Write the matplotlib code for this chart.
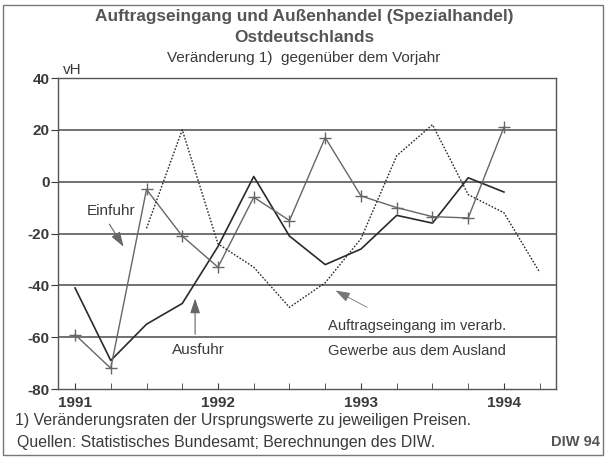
import numpy as np
import matplotlib
matplotlib.use("Agg")
from matplotlib import pyplot as plt
from matplotlib.patches import Rectangle

plt.rcParams['font.family'] = ['Liberation Sans', 'DejaVu Sans']

# quarterly values, 1991 Q1 .. 1994 Q2
quarters = [1991 + i * 0.25 for i in range(14)]
einfuhr = [-59, -72, -3, -21, -33, -6, -15, 17, -5.5, -10, -13.5, -14, 21, np.nan]
ausfuhr = [-41, -69, -55, -47, -25, 2, -21, -32, -26, -13, -16, 1.5, -4, np.nan]
auftrag = [np.nan, np.nan, -18, 20, -24, -33, -48.5, -39, -22, 10, 22, -5, -12, -35]

year_ticks = [1991, 1992, 1993, 1994]
y_ticks = [-80, -60, -40, -20, 0, 20, 40]
grid_levels = [-60, -40, -20, 0, 20]

ink = '#3a3a3a'
gray = '#666666'
fs = 11

fig = plt.figure(figsize=(6.08, 4.58), dpi=100)
fig.patch.set_facecolor('white')
ax = fig.add_axes([58 / 608, 1 - 389 / 458, 498 / 608, 311 / 458])

for g in grid_levels:
    ax.axhline(g, color='#4a4a4a', lw=1.1, zorder=1)

ax.plot(quarters, ausfuhr, color='#2a2a2a', lw=1.2, zorder=3)
ax.plot(quarters, einfuhr, color=gray, lw=1.0, marker='+', ms=8, mew=1.0, zorder=3)
ax.plot(quarters, auftrag, color='#2a2a2a', lw=1.0, ls=(0, (1.2, 1.2)), zorder=3)

ax.set_xlim(1990.881, 1994.364)
ax.set_ylim(-80, 40)
ax.set_yticks(y_ticks)
ax.set_yticklabels([str(v) for v in y_ticks], fontweight='bold', color=ink, fontsize=11)
ax.set_xticks(year_ticks)
ax.set_xticklabels([str(v) for v in year_ticks], fontweight='bold', color=ink, fontsize=11)
ax.set_xticks(quarters[:14], minor=True)
ax.tick_params(axis='x', which='both', direction='in', length=4, color=ink, pad=5)
ax.tick_params(axis='y', direction='out', length=5, color=ink, pad=1)
for s in ax.spines.values():
    s.set_color('#555555')
    s.set_linewidth(1.0)

ax.text(1990.915, 40.5, 'vH', fontsize=fs, color=ink, va='bottom', ha='left')

# annotations
ax.annotate('', xy=(1991.35, -26), xytext=(1991.23, -15.5),
            arrowprops=dict(arrowstyle='-|>,head_length=0.9,head_width=0.3', color='#666666', lw=0.8))
ax.text(1991.25, -11.5, 'Einfuhr', fontsize=fs, color=ink, ha='center', va='center')

ax.annotate('', xy=(1991.84, -44), xytext=(1991.84, -60),
            arrowprops=dict(arrowstyle='-|>,head_length=0.9,head_width=0.3', color='#666666', lw=0.8))
ax.text(1991.86, -65, 'Ausfuhr', fontsize=fs, color=ink, ha='center', va='center')

ax.annotate('', xy=(1992.805, -41.5), xytext=(1993.06, -49),
            arrowprops=dict(arrowstyle='-|>,head_length=0.9,head_width=0.3', color='#777777', lw=0.6))
ax.text(1992.77, -55.5, 'Auftragseingang im verarb.', fontsize=10.6, color=ink, ha='left', va='center')
ax.text(1992.77, -65.5, 'Gewerbe aus dem Ausland', fontsize=10.6, color=ink, ha='left', va='center')

# titles and notes
fig.text(0.5, 1 - 17 / 458, 'Auftragseingang und Außenhandel (Spezialhandel)',
         ha='center', va='center', fontsize=12.4, fontweight='bold', color='#555555')
fig.text(0.5, 1 - 38 / 458, 'Ostdeutschlands', ha='center', va='center',
         fontsize=12.4, fontweight='bold', color='#555555')
fig.text(0.5, 1 - 58 / 458, 'Veränderung 1)  gegenüber dem Vorjahr', ha='center', va='center',
         fontsize=fs, color=ink)
fig.text(15 / 608, 1 - 421 / 458, '1) Veränderungsraten der Ursprungswerte zu jeweiligen Preisen.',
         ha='left', va='center', fontsize=11.4, color=ink)
fig.text(17 / 608, 1 - 442 / 458, 'Quellen: Statistisches Bundesamt; Berechnungen des DIW.',
         ha='left', va='center', fontsize=11.4, color=ink)
fig.text(600 / 608, 1 - 442 / 458, 'DIW 94', ha='right', va='center',
         fontsize=10.5, fontweight='bold', color='#555555')

fig.patches.append(Rectangle((3 / 608, 3 / 458), 600 / 608, 450 / 458, transform=fig.transFigure,
                             fill=False, edgecolor='#777777', lw=1.0))

fig.savefig('out.png', dpi=100)
